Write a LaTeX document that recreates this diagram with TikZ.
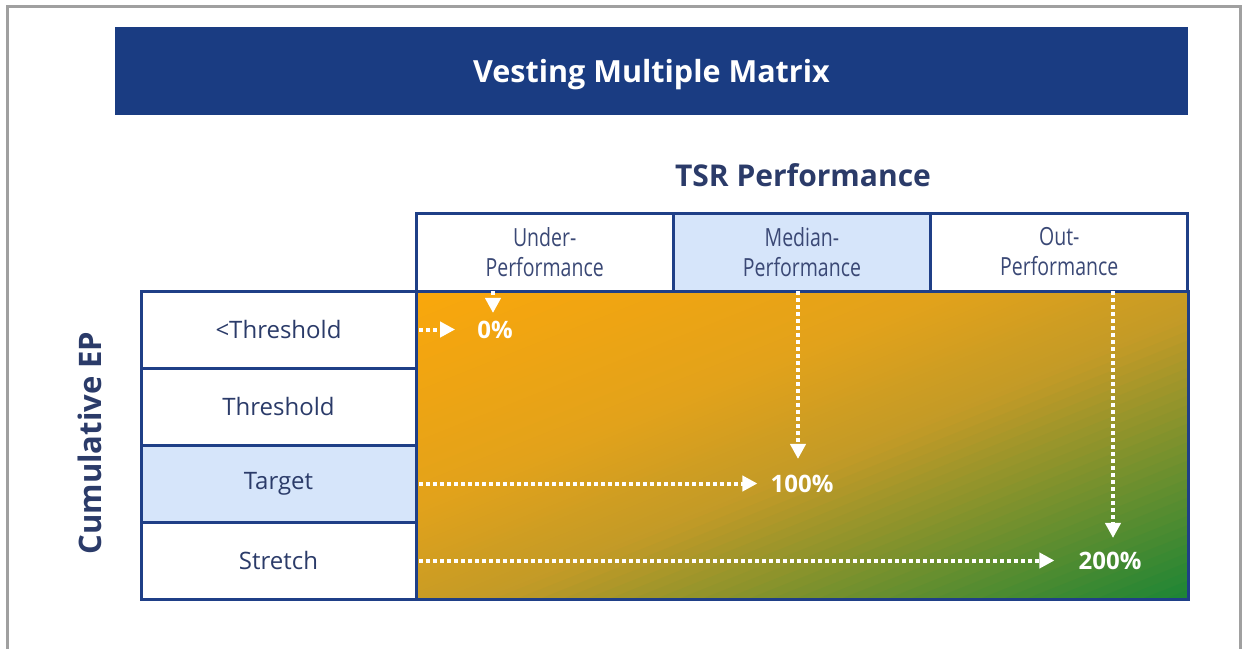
\documentclass[tikz,border=0pt]{standalone}
\usepackage{fontspec}
\setmainfont{Open Sans}
\newfontfamily\narrowfont[FakeStretch=0.78]{Open Sans}
\usetikzlibrary{arrows.meta}

\definecolor{navy}{HTML}{1A3C82}
\definecolor{edge}{HTML}{1F3F87}
\definecolor{ink}{HTML}{2B3B69}
\definecolor{softink}{HTML}{3A4875}
\definecolor{pale}{HTML}{D6E5FA}
\definecolor{amber}{HTML}{FAA70B}
\definecolor{goldA}{HTML}{E2A21B}
\definecolor{goldB}{HTML}{C29A27}
\definecolor{leaf}{HTML}{1C8535}
\definecolor{framegray}{HTML}{A0A0A0}

\tikzset{
  cell/.style={draw=edge, line width=3pt, outer sep=0pt, inner sep=0pt, align=center},
  colcell/.style={cell, text=softink, minimum width=257.3pt, minimum height=78pt, font=\narrowfont\fontsize{25}{30}\selectfont},
  rowcell/.style={cell, text=ink, minimum width=275pt, minimum height=77pt, font=\fontsize{24}{28}\selectfont},
  pct/.style={text=white, inner sep=0pt, font=\bfseries\fontsize{24}{28}\selectfont},
  flow/.style={white, line width=4pt, dash pattern=on 4pt off 3pt, -{Triangle[width=15pt,length=15pt]}}
}

\begin{document}
\begin{tikzpicture}[x=1pt,y=-1pt] % matrix of vesting multiples
\useasboundingbox (0,0) rectangle (1243,649);

\draw[framegray, line width=3pt] (7,649) -- (7,6) -- (1240,6) -- (1240,649);

\node[fill=navy, text=white, minimum width=1073pt, minimum height=88pt, text depth=0pt, font=\bfseries\fontsize{30.5}{34}\selectfont] (title) at (651.5,71) {Vesting Multiple Matrix};
\node[text=ink, font=\bfseries\fontsize{30}{34}\selectfont] (tsr) at (803,175) {TSR Performance};
\node[text=ink, rotate=90, font=\bfseries\fontsize{31}{34}\selectfont] (cep) at (90,443) {Cumulative EP};

% gradient field, strips along the diagonal
\begin{scope}
\clip (416,291) rectangle (1188,599);
\begin{scope}[shift={(416,291)}, x={(772pt,0pt)}, y={(0pt,-308pt)}]
\foreach \a/\b/\ca/\cb in {0/0.35/amber/goldA, 0.35/0.55/goldA/goldB, 0.55/1/goldB/leaf}
  \foreach \k in {0,...,29} {
    \pgfmathsetmacro\s{2*(\a+(\b-\a)*\k/30)}
    \pgfmathsetmacro\e{2*(\a+(\b-\a)*(\k+1.4)/30)}
    \pgfmathsetmacro\p{100*(\k+0.5)/30}
    \fill[\cb!\p!\ca] (\s+1,-1) -- (-1,\s+1) -- (-1,\e+1) -- (\e+1,-1) -- cycle;
  }
\end{scope}
\end{scope}
\draw[edge, line width=3pt] (416,291) rectangle (1188,599);

% column heads
\node[colcell, anchor=north west] (under) at (416,213) {Under-\\Performance};
\node[colcell, anchor=north west, fill=pale] (median) at (under.north east) {Median-\\Performance};
\node[colcell, anchor=north west] (out) at (median.north east) {Out-\\Performance};

% row heads
\node[rowcell, anchor=north east] (below) at (416,291) {<Threshold};
\node[rowcell, anchor=north east] (thr) at (416,368) {Threshold};
\node[rowcell, anchor=north east, fill=pale] (target) at (416,445) {Target};
\node[rowcell, anchor=north east] (stretch) at (416,522) {Stretch};

\node[pct] (p0) at (495,330) {0\%};
\node[pct] (p100) at (802,484) {100\%};
\node[pct] (p200) at (1110,561) {200\%};

\draw[flow, shorten <=3pt, shorten >=22pt] (below.east) -- (below.east -| p0.west);
\draw[flow, shorten >=8pt] ([xshift=-2pt]p0.north |- under.south) -- ([xshift=-2pt]p0.north);
\draw[flow, shorten <=3pt, shorten >=13pt] (target.east) -- (target.east -| p100.west);
\draw[flow, shorten >=16pt] ([xshift=-4pt]p100.north |- median.south) -- ([xshift=-4pt]p100.north);
\draw[flow, shorten <=3pt, shorten >=24pt] (stretch.east) -- (stretch.east -| p200.west);
\draw[flow, shorten >=14pt] ([xshift=3pt]p200.north |- out.south) -- ([xshift=3pt]p200.north);

\end{tikzpicture}
\end{document}
